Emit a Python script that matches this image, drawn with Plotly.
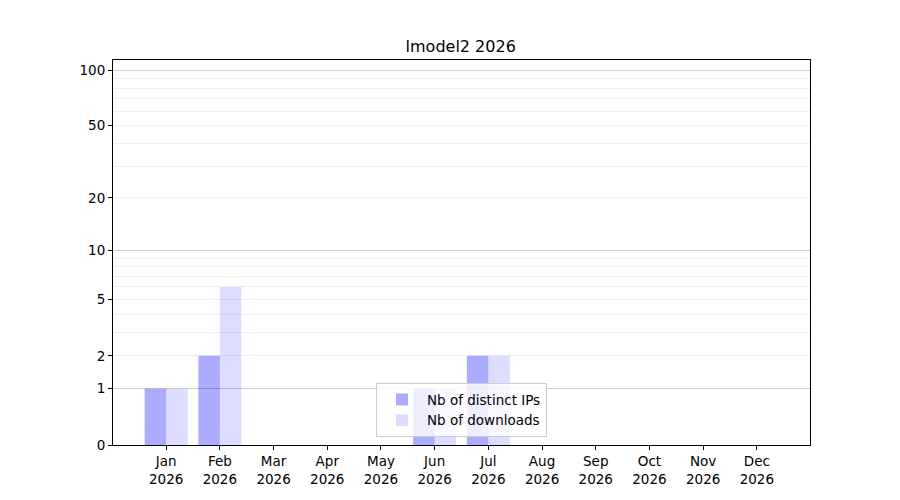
import plotly.graph_objects as go

months = ["Jan", "Feb", "Mar", "Apr", "May", "Jun", "Jul", "Aug", "Sep", "Oct", "Nov", "Dec"]
year = "2026"
distinct_ips = [1, 2, 0, 0, 0, 1, 2, 0, 0, 0, 0, 0]
downloads = [1, 6, 0, 0, 0, 1, 2, 0, 0, 0, 0, 0]

# y axis is log10(1 + value): plot 1+v on a log axis, label with v
tick_labels = [0, 1, 2, 5, 10, 20, 50, 100]
major_grid = [1, 10, 100]
minor_grid = [2, 3, 4, 5, 6, 7, 8, 9, 20, 30, 40, 50, 60, 70, 80, 90]

x = list(range(len(months)))
font = "DejaVu Sans"

fig = go.Figure()
fig.add_trace(go.Bar(x=x, y=[1 + v for v in distinct_ips], name="Nb of distinct IPs",
                     marker=dict(color="rgba(0,0,255,0.33)", line=dict(width=0))))
fig.add_trace(go.Bar(x=x, y=[1 + v for v in downloads], name="Nb of downloads",
                     marker=dict(color="rgba(0,0,255,0.135)", line=dict(width=0))))

yrange = [0, 2.059]
fig.update_layout(
    width=900, height=500,
    margin=dict(l=105, r=98, t=52, b=63),
    plot_bgcolor="white", paper_bgcolor="white",
    font=dict(family=font, size=13.5, color="black"),
    title=dict(text=f"lmodel2 {year}", x=0.503, xanchor="center", y=0.924, yanchor="middle",
               font=dict(size=16)),
    barmode="group", bargap=0.2, bargroupgap=0,
    showlegend=True,
    legend=dict(x=0.5, xanchor="center", y=0.02, yanchor="bottom",
                bgcolor="rgba(255,255,255,0.8)", bordercolor="#cccccc", borderwidth=1,
                font=dict(size=13.5), tracegroupgap=0, itemwidth=40),
    xaxis=dict(range=[-0.99, 11.99], tickvals=x,
               ticktext=[f"{m}<br>{year}" for m in months],
               showgrid=False, zeroline=False, showline=True, linecolor="black", mirror=True,
               ticks="outside", ticklen=4, tickcolor="black"),
    yaxis=dict(type="log", range=yrange, tickvals=[1 + t for t in tick_labels],
               ticktext=[str(t) for t in tick_labels], showgrid=False, zeroline=False,
               showline=True, linecolor="black", mirror=True,
               ticks="outside", ticklen=4, tickcolor="black",
               minor=dict(tickvals=[1 + t for t in minor_grid], showgrid=True,
                          gridcolor="#efefef", gridwidth=1, ticks="")),
    yaxis2=dict(type="log", range=yrange, overlaying="y", tickvals=[1 + t for t in major_grid],
                showticklabels=False, showgrid=True, gridcolor="#cccccc", gridwidth=1,
                zeroline=False, ticks=""),
)
# dummy trace so the overlay axis is drawn
fig.add_trace(go.Scatter(x=[None], y=[None], yaxis="y2", showlegend=False, hoverinfo="skip"))

fig.write_html("out.html")
